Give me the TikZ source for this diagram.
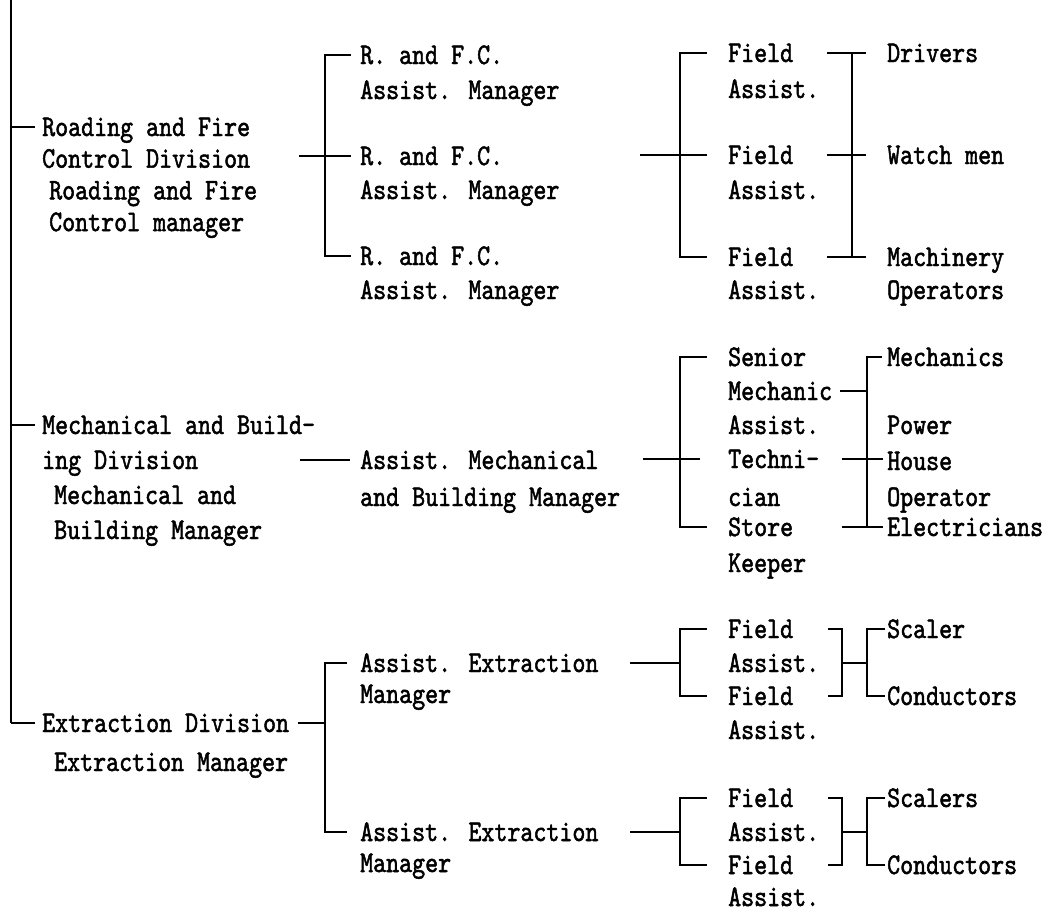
\documentclass[tikz,border=0pt]{standalone}
\usepackage{fontspec}
\usepackage{tikz}
\usetikzlibrary{calc}
\newfontfamily\typewr[FakeStretch=0.825,FakeBold=1.6]{lmmono10-regular.otf}
\newcommand{\rows}[1]{\begin{tabular}[t]{@{}l@{}}#1\end{tabular}}
\tikzset{
  lbl/.style   = {anchor=base west, inner sep=0pt, text=black,
                  font=\typewr\fontsize{30pt}{#1}\selectfont},
  lbl/.default = 34pt,
  wire/.style  = {draw=black, line width=1.6pt},
  trunk/.style = {draw=black, line width=2.4pt},
}

\begin{document}
\begin{tikzpicture}[x=1pt,y=-1pt]
\fill[white] (0,0) rectangle (1050,913);
\useasboundingbox (0,0) rectangle (1050,913);

% ---- divisions --------------------------------------------------------
\node[lbl=31.7pt] at (42,136) (d1)
  {\rows{Roading and Fire\\Control Division\\
   \hspace*{7pt}Roading and Fire\\\hspace*{7pt}Control manager}};
\node[lbl=35pt] at (42,434) (d2)
  {\rows{Mechanical and Build-\\ing Division\\
   \hspace*{12pt}Mechanical and\\\hspace*{12pt}Building Manager}};
\node[lbl=39pt] at (42,732) (d3)
  {\rows{Extraction Division\\\hspace*{12pt}Extraction Manager}};

% ---- assistant managers -----------------------------------------------
\node[lbl=35pt] at (360,64)  (r1) {\rows{R. and F.C.\\Assist. Manager}};
\node[lbl]      at (360,165) (r2) {\rows{R. and F.C.\\Assist. Manager}};
\node[lbl]      at (360,265) (r3) {\rows{R. and F.C.\\Assist. Manager}};
\node[lbl=37pt] at (360,469) (am) {\rows{Assist. Mechanical\\and Building Manager}};
\node[lbl=31pt] at (360,672) (ae1) {\rows{Assist. Extraction\\Manager}};
\node[lbl=31pt] at (360,841) (ae2) {\rows{Assist. Extraction\\Manager}};

% ---- field staff ------------------------------------------------------
\node[lbl=36pt] at (728,62)  (f1) {\rows{Field\\Assist.}};
\node[lbl=35pt] at (728,164) (f2) {\rows{Field\\Assist.}};
\node[lbl=33pt] at (728,266) (f3) {\rows{Field\\Assist.}};
\node[lbl]      at (728,366) (sm) {\rows{Senior\\Mechanic\\Assist.}};
\node[lbl=38pt] at (728,468) (tc) {\rows{Techni-\\cian}};
\node[lbl=36pt] at (728,536) (sk) {\rows{Store\\Keeper}};
\node[lbl]      at (728,638) (e1) {\rows{Field\\Assist.}};
\node[lbl]      at (728,705) (e2) {\rows{Field\\Assist.}};
\node[lbl]      at (728,807) (e3) {\rows{Field\\Assist.}};
\node[lbl=32pt] at (728,874) (e4) {\rows{Field\\Assist.}};

% ---- workers ----------------------------------------------------------
\node[lbl]      at (887,62)  (dr)  {Drivers};
\node[lbl]      at (887,164) (wm)  {Watch men};
\node[lbl=33pt] at (887,266) (mo)  {\rows{Machinery\\Operators}};
\node[lbl]      at (887,366) (mc)  {Mechanics};
\node[lbl=36pt] at (887,434) (ph)  {\rows{Power\\House\\Operator}};
\node[lbl]      at (887,536) (el)  {Electricians};
\node[lbl]      at (887,638) (sc1) {Scaler};
\node[lbl]      at (887,705) (co1) {Conductors};
\node[lbl]      at (887,807) (sc2) {Scalers};
\node[lbl]      at (887,874) (co2) {Conductors};

% first-line attachment points
\foreach \n in {d1,d2,d3,r1,r2,r3,am,ae1,ae2,f1,f2,f3,sm,tc,sk,
                e1,e2,e3,e4,dr,wm,mo,mc,ph,el,sc1,co1,sc2,co2}
  \coordinate (\n-l) at ([yshift=9pt]\n.base west);

% bracket spines
\coordinate (top)  at (11,0);
\coordinate (bar2) at (325,0);
\coordinate (bar3) at (680,0);
\coordinate (bar6) at (842,0);
\coordinate (bar4) at (852,0);
\coordinate (bar5) at (867,0);

% ---- trunk ------------------------------------------------------------
\draw[trunk] (top) -- (top |- d3-l);
\draw[wire] (top |- d1-l) -- ([xshift=-7pt]d1-l);
\draw[wire] (top |- d2-l) -- ([xshift=-7pt]d2-l);
\draw[wire] (top |- d3-l) -- ([xshift=-7pt]d3-l);

% ---- roading and fire control -----------------------------------------
\draw[wire] ([xshift=-61pt]r2-l) -- ([xshift=-9pt]r2-l);
\draw[wire] ([xshift=-9pt]r1-l) -| (bar2 |- r3-l) -- ([xshift=-9pt]r3-l);
\draw[wire] ([xshift=-88pt]f2-l) -- ([xshift=-21pt]f2-l);
\draw[wire] ([xshift=-21pt]f1-l) -| (bar3 |- f3-l) -- ([xshift=-21pt]f3-l);
\draw[wire] (bar4 |- dr-l) -- (bar4 |- mo-l);
\foreach \w in {dr,wm,mo}
  \draw[wire] ([xshift=-60pt]\w-l) -- ([xshift=-21pt]\w-l);

% ---- mechanical and building ------------------------------------------
\draw[wire] ([xshift=-60pt]am-l) -- ([xshift=-10pt]am-l);
\draw[wire] ([xshift=-85pt]tc-l) -- ([xshift=-28pt]tc-l);
\draw[wire] ([xshift=-21pt]sm-l) -| (bar3 |- sk-l) -- ([xshift=-21pt]sk-l);
\draw[wire] ([xshift=-5pt]mc-l) -| (bar5 |- sk-l);
\draw[wire] ([shift={(112pt,-34pt)}]sm-l) -- ++(27,0);
\draw[wire] ([xshift=114pt]tc-l) -- ++(41,0);
\draw[wire] ([xshift=114pt]sk-l) -- ([xshift=-4pt]el-l);

% ---- extraction -------------------------------------------------------
\draw[wire] (d3-l -| d3.east) ++(9,0) -- (bar2 |- d3-l);
\draw[wire] ([xshift=-13pt]ae1-l) -| (bar2 |- ae2-l) -- ([xshift=-13pt]ae2-l);
\foreach \a/\p/\q/\s/\c in {ae1/e1/e2/sc1/co1, ae2/e3/e4/sc2/co2} {
  \draw[wire] ([xshift=270pt]\a-l) -- (bar3 |- \a-l);
  \draw[wire] ([xshift=-21pt]\p-l) -| (bar3 |- \q-l) -- ([xshift=-21pt]\q-l);
  \draw[wire] ([xshift=100pt]\p-l) -| (bar6 |- \q-l) -- ([xshift=100pt]\q-l);
  \draw[wire] (bar6 |- \a-l) -- (bar5 |- \a-l);
  \draw[wire] ([xshift=-2pt]\s-l) -| (bar5 |- \c-l) -- ([xshift=-2pt]\c-l);
}

\end{tikzpicture}
\end{document}
